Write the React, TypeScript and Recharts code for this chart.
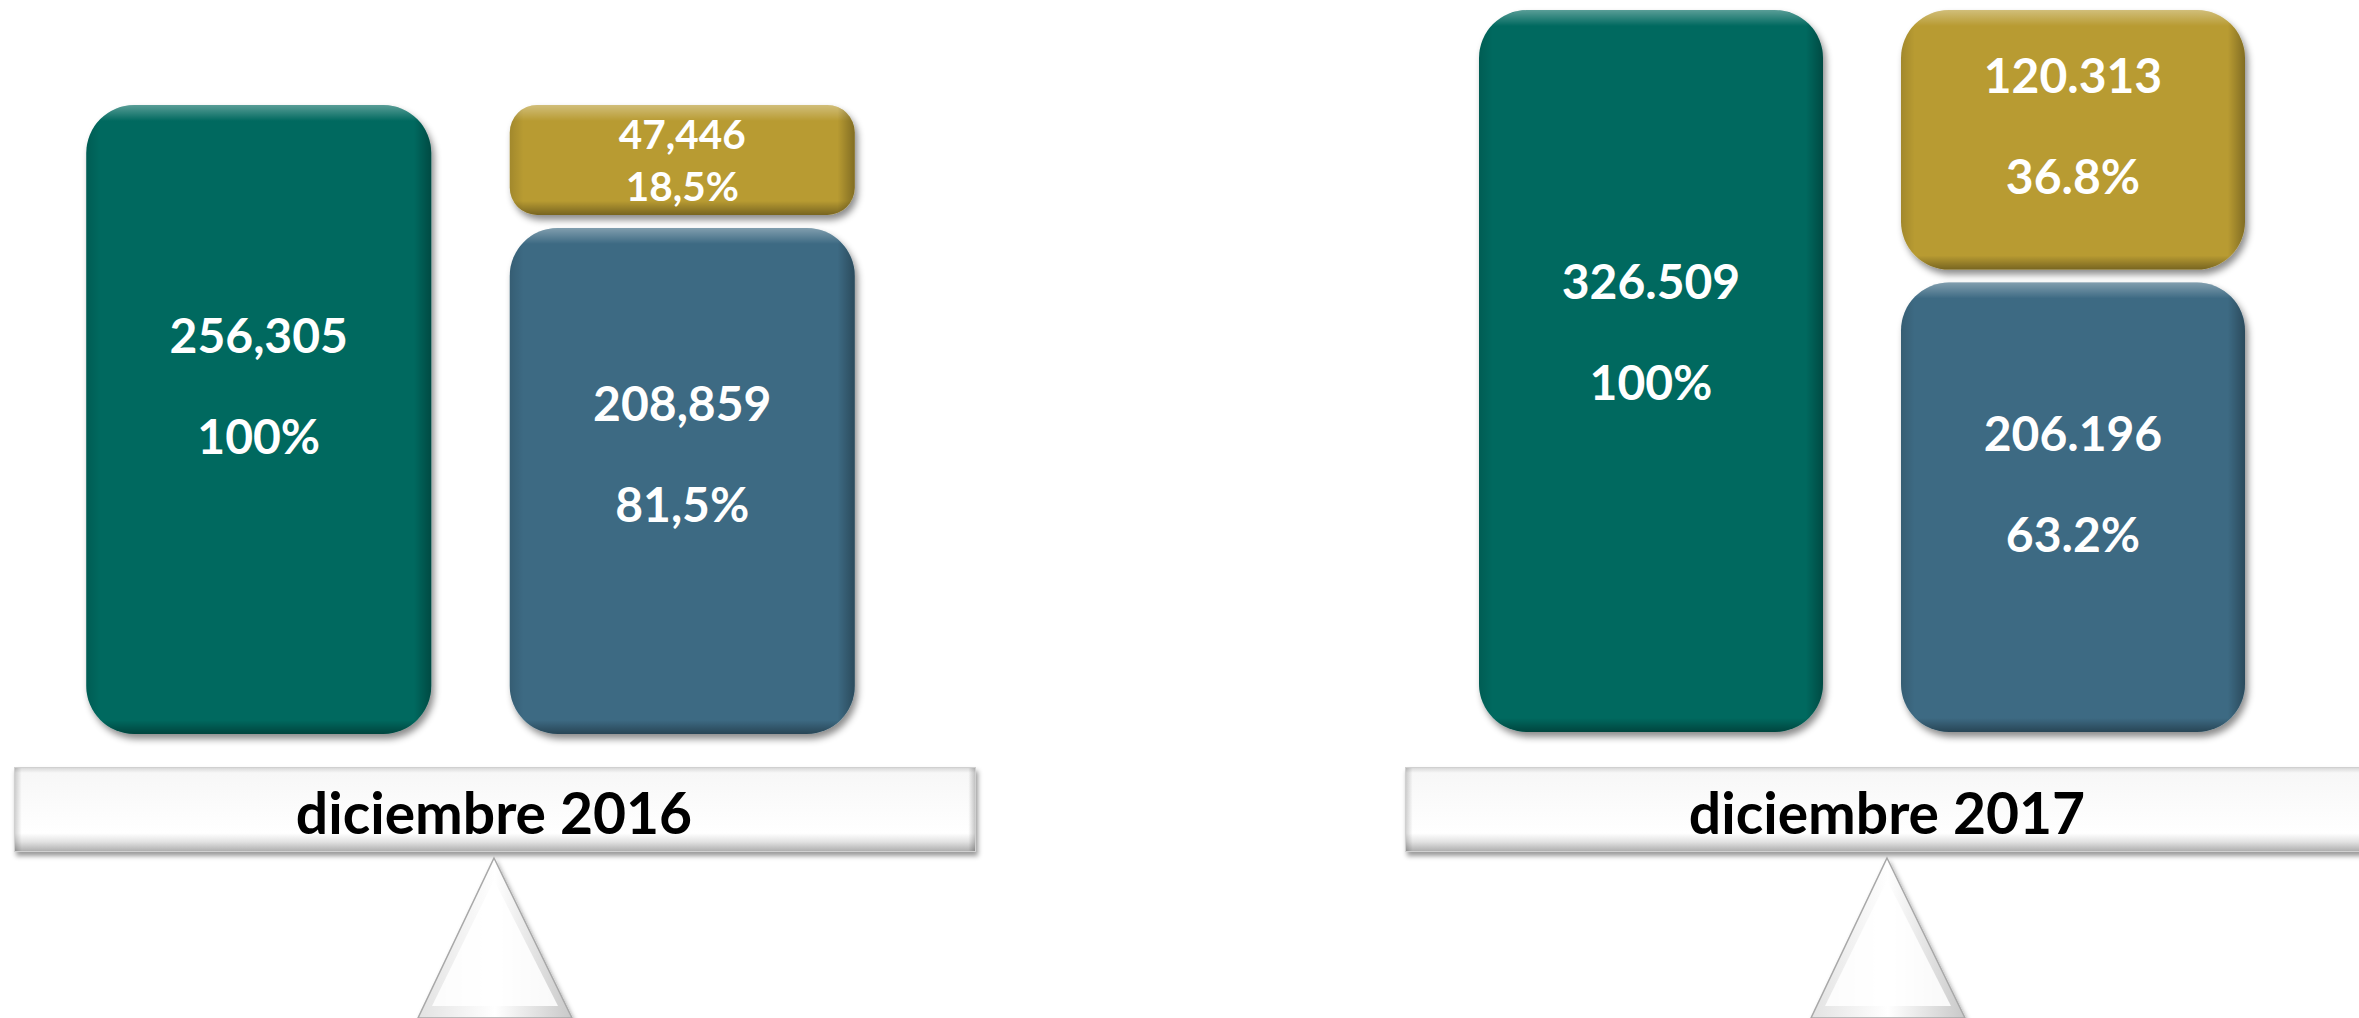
import { BarChart, Bar, XAxis, YAxis } from 'recharts'

// valores del gráfico
const periods = ['diciembre 2016', 'diciembre 2017']
const totals = [256305, 326509]
const goldParts = [47446, 120313]
const blueParts = [208859, 206196]
const thousandSeps = [',', '.']
const decimalSeps = [',', '.']
const columns = ['total', 'desglose']

const COLORS: Record<string, string> = {
  total: '#06695f',
  blue: '#3d6b83',
  gold: '#b89b33',
}
const FONT = 'Lato, "Open Sans", sans-serif'
const GAP = 13

// layout of each panel (page coordinates)
const panels = [
  {
    left: 0,
    width: 1000,
    margin: { top: 105, right: 105.75, bottom: 26, left: 47.25 },
    barSize: 345,
    platX: 14,
    platW: 962,
    centerX: 494,
  },
  {
    left: 1380,
    width: 979,
    margin: { top: 10, right: 75, bottom: 28, left: 60 },
    barSize: 344,
    platX: 1405,
    platW: 964,
    centerX: 1887,
  },
]

const fmtNum = (n: number, sep: string) =>
  String(n).replace(/\B(?=(\d{3})+(?!\d))/g, sep)

const fmtPct = (v: number, total: number, dec: string) =>
  v === total ? '100%' : ((v / total) * 100).toFixed(1).replace('.', dec) + '%'

function makeShape(kind: string, i: number) {
  return (props: any) => {
    const { x, y, width, height, payload } = props
    if (!height || height <= 0) return null
    let top = y
    let h = height
    if (kind === 'gold') h -= GAP / 2
    if (kind === 'blue') {
      top += GAP / 2
      h -= GAP / 2
    }
    const v = payload[kind]
    const r = Math.min(48, h / 4)
    const id = `${kind}-${i}`
    // small boxes get tighter, smaller labels so the two lines don't collide
    const spacing = Math.min(101, (h - 6) / 2)
    const fs = Math.min(48, spacing * 0.78)
    const cy = top + h / 2 - (h > 200 ? h * 0.055 : 0)
    return (
      <g>
        <defs>
          <linearGradient id={`v-${id}`} gradientUnits="userSpaceOnUse" x1={0} y1={top} x2={0} y2={top + h}>
            <stop offset={0} stopColor="#ffffff" stopOpacity={0.35} />
            <stop offset={Math.min(0.2, 16 / h)} stopColor="#ffffff" stopOpacity={0} />
            <stop offset={1 - Math.min(0.2, 14 / h)} stopColor="#000000" stopOpacity={0} />
            <stop offset={1} stopColor="#000000" stopOpacity={0.35} />
          </linearGradient>
          <linearGradient id={`h-${id}`} gradientUnits="userSpaceOnUse" x1={x} y1={0} x2={x + width} y2={0}>
            <stop offset={0} stopColor="#000000" stopOpacity={0.12} />
            <stop offset={0.04} stopColor="#000000" stopOpacity={0} />
            <stop offset={0.95} stopColor="#000000" stopOpacity={0} />
            <stop offset={1} stopColor="#000000" stopOpacity={0.3} />
          </linearGradient>
        </defs>
        <rect x={x} y={top} width={width} height={h} rx={r} ry={r} fill={COLORS[kind]} filter="url(#boxShadow)" />
        <rect x={x} y={top} width={width} height={h} rx={r} ry={r} fill={`url(#v-${id})`} />
        <rect x={x} y={top} width={width} height={h} rx={r} ry={r} fill={`url(#h-${id})`} />
        <text
          x={x + width / 2}
          y={cy - spacing / 2}
          textAnchor="middle"
          dominantBaseline="central"
          fill="#ffffff"
          fontFamily={FONT}
          fontWeight={700}
          fontSize={fs}
        >
          {fmtNum(v, thousandSeps[i])}
        </text>
        <text
          x={x + width / 2}
          y={cy + spacing / 2}
          textAnchor="middle"
          dominantBaseline="central"
          fill="#ffffff"
          fontFamily={FONT}
          fontWeight={700}
          fontSize={fs}
        >
          {fmtPct(v, totals[i], decimalSeps[i])}
        </text>
      </g>
    )
  }
}

function Panel({ i }: { i: number }) {
  const p = panels[i]
  const data = [
    { name: columns[0], total: totals[i], blue: 0, gold: 0 },
    { name: columns[1], total: 0, blue: blueParts[i], gold: goldParts[i] },
  ]
  return (
    <div style={{ position: 'absolute', left: p.left, top: 0 }}>
      <BarChart width={p.width} height={760} data={data} margin={p.margin} barSize={p.barSize}>
        <defs>
          <filter id="boxShadow" x="-10%" y="-10%" width="125%" height="125%">
            <feDropShadow dx={3} dy={5} stdDeviation={3.5} floodColor="#000" floodOpacity={0.45} />
          </filter>
        </defs>
        <XAxis dataKey="name" hide />
        <YAxis hide width={0} scale="linear" domain={[0, 'dataMax']} />
        <Bar dataKey="total" stackId="s" isAnimationActive={false} shape={makeShape('total', i)} />
        <Bar dataKey="blue" stackId="s" isAnimationActive={false} shape={makeShape('blue', i)} />
        <Bar dataKey="gold" stackId="s" isAnimationActive={false} shape={makeShape('gold', i)} />
      </BarChart>
    </div>
  )
}

function Stand({ i }: { i: number }) {
  const p = panels[i]
  const cx = p.centerX
  return (
    <g>
      <rect x={p.platX} y={767} width={p.platW} height={85} fill="url(#platV)" filter="url(#platShadow)" />
      <rect x={p.platX} y={767} width={p.platW} height={85} fill="url(#platH)" />
      <rect x={p.platX + 0.5} y={767.5} width={p.platW - 1} height={84} fill="none" stroke="#d0d0d0" strokeWidth={1} />
      <text
        x={cx}
        y={812}
        textAnchor="middle"
        dominantBaseline="central"
        fontFamily={FONT}
        fontWeight={700}
        fontSize={57}
        fill="#000000"
      >
        {periods[i]}
      </text>
      <polygon
        points={`${cx},858 ${cx + 78},1018 ${cx - 76},1018`}
        fill="url(#triFill)"
        stroke="#a8a8a8"
        strokeWidth={1.5}
        filter="url(#platShadow)"
      />
      <polygon points={`${cx},880 ${cx + 64},1006 ${cx - 62},1006`} fill="#ffffff" opacity={0.85} />
    </g>
  )
}

export default function App() {
  return (
    <div
      style={{
        position: 'absolute',
        left: 0,
        top: 0,
        width: 2359,
        height: 1018,
        overflow: 'hidden',
        background: '#ffffff',
      }}
    >
      <svg width={2359} height={1018} style={{ position: 'absolute', left: 0, top: 0 }}>
        <defs>
          <linearGradient id="platV" x1="0" y1="0" x2="0" y2="1">
            <stop offset="0" stopColor="#d4d4d4" />
            <stop offset="0.07" stopColor="#f7f7f7" />
            <stop offset="0.78" stopColor="#ffffff" />
            <stop offset="0.88" stopColor="#e2e2e2" />
            <stop offset="1" stopColor="#aaaaaa" />
          </linearGradient>
          <linearGradient id="platH" x1="0" y1="0" x2="1" y2="0">
            <stop offset="0" stopColor="#000" stopOpacity={0.2} />
            <stop offset="0.008" stopColor="#000" stopOpacity={0} />
            <stop offset="0.992" stopColor="#000" stopOpacity={0} />
            <stop offset="1" stopColor="#000" stopOpacity={0.25} />
          </linearGradient>
          <linearGradient id="triFill" x1="0" y1="0" x2="1" y2="0">
            <stop offset="0" stopColor="#e2e2e2" />
            <stop offset="0.5" stopColor="#ffffff" />
            <stop offset="1" stopColor="#c8c8c8" />
          </linearGradient>
          <filter id="platShadow" x="-5%" y="-20%" width="110%" height="150%">
            <feDropShadow dx={2} dy={4} stdDeviation={2.5} floodColor="#000" floodOpacity={0.4} />
          </filter>
        </defs>
        <Stand i={0} />
        <Stand i={1} />
      </svg>
      <Panel i={0} />
      <Panel i={1} />
    </div>
  )
}
